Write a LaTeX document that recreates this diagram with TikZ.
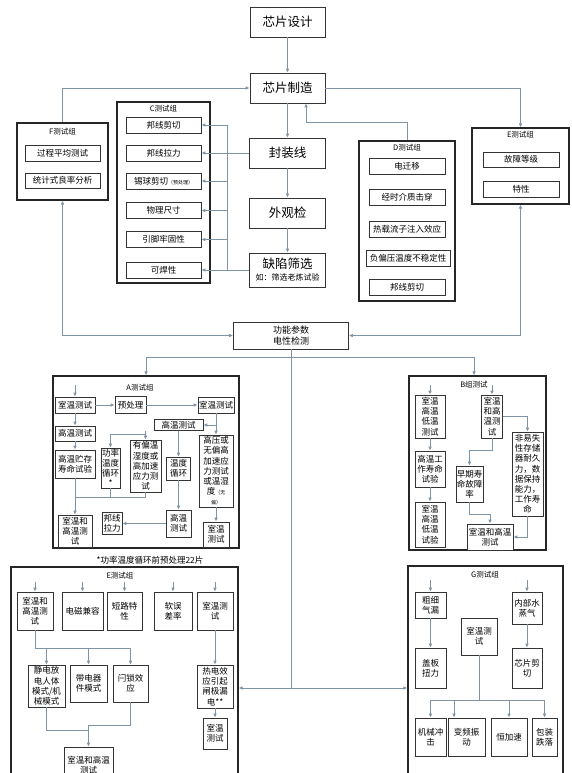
\documentclass[tikz,border=0pt]{standalone}
\usepackage{fontspec}
\newfontfamily\cjk{Noto Sans CJK SC}
\usetikzlibrary{arrows.meta,calc}
\definecolor{lc}{RGB}{128,148,168}
\newcommand\mybox[6][]{\node[box,#1,minimum width=#4pt,minimum height=#5pt] (#2) at (#3) {#6};}
\begin{document}
\begin{tikzpicture}[x=1pt,y=-1pt,
  box/.style={draw=black!80,line width=0.7pt,fill=white,inner sep=0pt,align=center,font=\cjk\fontsize{8.5}{10.2}\selectfont},
  big/.style={font=\cjk\fontsize{12.5}{15}\selectfont},
  item/.style={font=\cjk\fontsize{8.5}{10}\selectfont},
  grp/.style={draw=black!85,line width=1.2pt,inner sep=0pt},
  glab/.style={font=\cjk\fontsize{7.5}{9}\selectfont,inner sep=0pt},
  line/.style={draw=lc,line width=0.8pt},
  conn/.style={line,-{Latex[length=4pt,width=3.6pt]}},
  conn2/.style={line,{Latex[length=4pt,width=3.6pt]}-{Latex[length=4pt,width=3.6pt]}},
]
\useasboundingbox (0,0) rectangle (572,773);
\clip (0,0) rectangle (572,773);
\fill[white] (0,0) rectangle (572,773);

% ---------- group frames ----------
\node[grp,minimum width=91pt,minimum height=77pt] (Fg) at (62.5,161.5) {};
\node[grp,minimum width=93pt,minimum height=181pt] (Cg) at (163.5,192.5) {};
\node[grp,line width=2pt,minimum width=96pt,minimum height=160pt] (Dg) at (407,221) {};
\node[grp,minimum width=97pt,minimum height=76pt] (Eg) at (520.5,166) {};
\node[grp,minimum width=186pt,minimum height=172pt] (Ag) at (146,462) {};
\node[grp,minimum width=137pt,minimum height=174pt] (Bg) at (477.5,463) {};
\node[grp,minimum width=227pt,minimum height=233pt] (Ebg) at (124.5,683.5) {};
\node[grp,minimum width=155pt,minimum height=234pt] (Gg) at (485.5,683) {};

\node[glab] (Fl) at (62.5,132) {F测试组};
\node[glab] (Cl) at (163.5,109) {C测试组};
\node[glab] (Dl) at (407,148) {D测试组};
\node[glab] (El) at (520.5,135) {E测试组};
\node[glab] (Al) at (140,388) {A测试组};
\node[glab] (Bl) at (474,385) {B组测试};
\node[glab] (Ebl) at (120,576) {E测试组};
\node[glab] (Gl) at (485,575) {G测试组};
\node[font=\cjk\fontsize{8.5}{10}\selectfont,inner sep=0pt] (note) at (150,560) {*功率温度循环前预处理22片};

% ---------- main chain ----------
\mybox[big]{design}{287.5,22}{75}{30}{芯片设计}
\mybox[big]{mfg}{287.5,88}{75}{30}{芯片制造}
\mybox[big]{pkg}{287.5,153}{76}{30}{封装线}
\mybox[big]{vis}{287.5,213}{76}{30}{外观检}
\mybox[big]{scr}{287.5,270}{76}{34}{缺陷筛选\\[-3pt]{\fontsize{8}{9.5}\selectfont 如：筛选老炼试验}}
\mybox[font=\cjk\fontsize{9}{11}\selectfont]{func}{291,335.5}{115}{27}{功能参数\\电性检测}

% ---------- F ----------
\mybox[item]{F1}{62.5,153}{75}{16}{过程平均测试}
\mybox[item]{F2}{62.5,180.5}{75}{15}{统计式良率分析}

% ---------- C ----------
\mybox[item]{C1}{163.5,125}{75}{16}{邦线剪切}
\mybox[item]{C2}{163.5,153}{75}{16}{邦线拉力}
\mybox[item]{C3}{163.5,181}{75}{16}{锡球剪切{\fontsize{5}{6}\selectfont（预处理）}}
\mybox[item]{C4}{163.5,210.5}{75}{16}{物理尺寸}
\mybox[item]{C5}{163.5,239.5}{75}{16}{引脚牢固性}
\mybox[item]{C6}{163.5,270}{75}{16}{可焊性}

% ---------- D ----------
\mybox[item]{D1}{407,166}{76}{16}{电迁移}
\mybox[item]{D2}{407,197.5}{76}{16}{经时介质击穿}
\mybox[item]{D3}{407,229}{76}{16}{热载流子注入效应}
\mybox[item]{D4}{408,258}{84}{16}{负偏压温度不稳定性}
\mybox[item]{D5}{407,287.5}{76}{16}{邦线剪切}

% ---------- E ----------
\mybox[item]{E1}{521,159.5}{76}{15}{故障等级}
\mybox[item]{E2}{521,189}{76}{16}{特性}

% ---------- A ----------
\mybox{A1}{75,405}{40}{16}{室温测试}
\mybox{A2}{130.5,405}{31}{17}{预处理}
\mybox{A3}{216,405}{36}{16}{室温测试}
\mybox{A4}{75,433.5}{40}{15}{高温测试}
\mybox{A5}{75,464}{40}{28}{高温贮存\\寿命试验}
\mybox{A6}{75,531}{34}{32}{室温和\\高温测\\试}
\mybox{A7}{178.5,425}{49}{11}{高温测试}
\mybox{A8}{110.5,468}{19}{40}{功率\\温度\\循环\\*}
\mybox{A9}{145.5,466}{31}{52}{有偏温\\湿度或\\高加速\\应力测\\试}
\mybox{A10}{178.5,468.5}{24}{23}{温度\\循环}
\mybox{A11}{216,471}{34}{72}{高压或\\无偏高\\加速应\\力测试\\或温湿\\度{\fontsize{5}{6}\selectfont（无}\\{\fontsize{5}{6}\selectfont 偏）}}
\mybox{A12}{216,534.5}{26}{25}{室温\\测试}
\mybox{A13}{178.5,523.5}{25}{27}{高温\\测试}
\mybox{A14}{112,523.5}{20}{22}{邦线\\拉力}

% ---------- B ----------
\mybox{B1}{430,416.5}{30}{43}{室温\\高温\\低温\\测试}
\mybox{B2}{430,469}{30}{36}{高温工\\作寿命\\试验}
\mybox{B3}{430,524.5}{30}{45}{室温\\高温\\低温\\试验}
\mybox{B4}{492,416.5}{21}{43}{室温\\和高\\温测\\试}
\mybox{B5}{527.5,474}{31}{84}{非易失\\性存储\\器耐久\\力，数\\据保持\\能力，\\工作寿\\命}
\mybox{B6}{469.5,484}{27}{36}{早期寿\\命故障\\率}
\mybox{B7}{490,537}{46}{26}{室温和高温\\测试}

% ---------- E (bottom) ----------
\mybox{Eb1}{35,611}{36}{38}{室温和\\高温测\\试}
\mybox{Eb2}{82.5,611}{41}{38}{电磁兼容}
\mybox{Eb3}{124.5,611}{35}{38}{短路特\\性}
\mybox{Eb4}{173,611}{38}{38}{软误\\差率}
\mybox{Eb5}{215,611}{36}{38}{室温测\\试}
\mybox{Eb6}{46.5,686}{37}{42}{静电放\\电人体\\模式/机\\械模式}
\mybox{Eb7}{88.5,683.5}{37}{37}{带电器\\件模式}
\mybox{Eb8}{130.5,683.5}{35}{37}{闩锁效\\应}
\mybox{Eb9}{215,686.5}{36}{43}{热电效\\应引起\\闸极漏\\电**}
\mybox{Eb10}{215,733.5}{24}{31}{室温\\测试}
\mybox{Eb11}{88.5,765}{49}{36}{室温和高温\\测试}

% ---------- G ----------
\mybox{G1}{430.5,605}{31}{26}{粗细\\气漏}
\mybox{G2}{430.5,668}{31}{40}{盖板\\扭力}
\mybox{G3}{479,636.5}{36}{37}{室温测\\试}
\mybox{G4}{527,608}{30}{32}{内部水\\蒸气}
\mybox{G5}{527,668}{30}{40}{芯片剪\\切}
\mybox{G6}{430.5,737}{31}{38}{机械冲\\击}
\mybox{G7}{466.5,737}{37}{38}{变频振\\动}
\mybox{G8}{509,737}{36}{38}{恒加速}
\mybox{G9}{544.5,737}{25}{38}{包装\\跌落}

% ---------- coordinates ----------
\coordinate (cbus) at (227,0);
\coordinate (jA) at (146,357);
\coordinate (jB) at (474,357);
\coordinate (hub) at (291,688);
\coordinate (aj) at (75,497);
\coordinate (ej) at (130.5,648);
\coordinate (ek) at (88.5,725);
\coordinate (gj) at (479,700);

% ---------- connectors: main ----------
\draw[conn] (design) -- (mfg);
\draw[conn] (mfg) -- (pkg);
\draw[conn] (pkg) -- (vis);
\draw[conn] (vis) -- (scr);
\draw[conn] (Fg.north) |- (mfg.west);
\draw[conn] (mfg.east) -| (Eg.north);
\draw[conn] (Dg.north) -- ++(0,-18) -| ($(mfg.south)+(18.5,0)$);
\draw[conn2] (Fg.south) |- (func.west);
\draw[conn2] (Eg.south) |- (func.east);

% C bus
\draw[conn] (pkg.west) -- (C2.east);
\draw[conn] (scr.west) -- (C6.east);
\draw[line] (C1.east -| cbus) -- (C6.east -| cbus);
\draw[conn] (C1.east -| cbus) -- (C1.east);
\draw[conn] (C3.east -| cbus) -- (C3.east);
\draw[conn] (C4.east -| cbus) -- (C4.east);
\draw[conn] (C5.east -| cbus) -- (C5.east);

% distribution
\draw[line] (func.south) -- (hub);
\draw[line] (jA) -- (jB);
\draw[conn] (jA) -- (Ag.north);
\draw[conn] (jB) -- (jB |- Bg.north);
\draw[conn] (hub) -- (hub -| Ebg.east);
\draw[conn] (hub) -- (hub -| Gg.west);

% A
\draw[conn] (A1.north) ++(0,-12) -- (A1.north);
\draw[conn] (A1) -- (A2);
\draw[conn] (A2) -- (A3);
\draw[conn] (A1) -- (A4);
\draw[conn] (A4) -- (A5);
\draw[conn] (A5) -- (A6);
\draw[conn] (A3) -- (A11);
\draw[conn] (A3.south |- A7.east) -- (A7.east);
\draw[conn] (A9.north |- A7.south) -- (A9.north);
\draw[conn] ($(A9.north)+(0,-5)$) -| (A8.north);
\draw[conn] (A10.north |- A7.south) -- (A10.north);
\draw[line] (A8.south) |- (aj);
\draw[line] (A9.south) |- (aj);
\draw[conn] (A11) -- (A12);
\draw[conn] (A10) -- (A13);
\draw[conn] (A13) -- (A14);

% B
\draw[conn] (B1.north) ++(0,-10) -- (B1.north);
\draw[conn] (B4.north) ++(0,-10) -- (B4.north);
\draw[conn] (B1) -- (B2);
\draw[conn] (B2) -- (B3);
\draw[conn] (B4.south) -- ++(0,12) -| (B6.north);
\draw[conn] (B4.east) -| (B5.north);
\draw[conn] (B6.south) -- ++(0,12) -| (B7.north);
\draw[conn] (B5.south) |- (B7.east);

% E bottom
\foreach \n in {Eb1,Eb2,Eb3,Eb4,Eb5}{\draw[conn] (\n.north) ++(0,-10) -- (\n.north);}
\draw[line] (Eb1.south) |- (ej);
\draw[conn] (Eb6.north |- ej) -- (Eb6.north);
\draw[conn] (Eb7.north |- ej) -- (Eb7.north);
\draw[conn] (ej) -- (Eb8.north);
\draw[conn] (Eb5) -- (Eb9);
\draw[conn] (Eb9) -- (Eb10);
\draw[line] (Eb6.south) |- ($(ek)+(0,5)$);
\draw[line] (Eb8.south) |- (ek);
\draw[conn] (ek) -- (Eb11.north);

% G
\draw[conn] (G1.north) ++(0,-12) -- (G1.north);
\draw[conn] (G4.north) ++(0,-12) -- (G4.north);
\draw[conn] (G1) -- (G2);
\draw[conn] (G4) -- (G5);
\draw[line] (G3.south) -- (gj);
\draw[line] (G6.north |- gj) -- (G9.north |- gj);
\draw[conn] (G6.north |- gj) -- (G6.north);
\draw[conn] ($(G7.north |- gj)+(-12.5,0)$) -- ($(G7.north)+(-12.5,0)$);
\draw[conn] (G8.north |- gj) -- (G8.north);
\draw[conn] (G9.north |- gj) -- (G9.north);
\end{tikzpicture}
\end{document}
